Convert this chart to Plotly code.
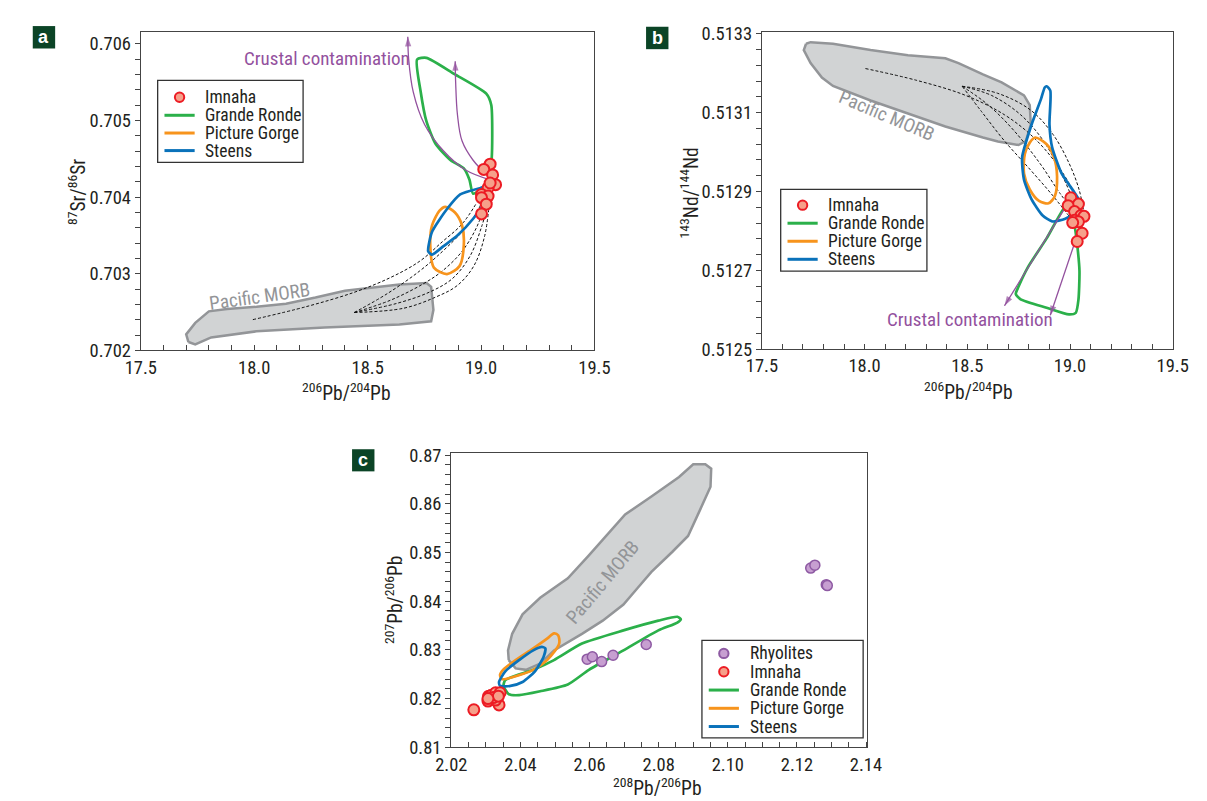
import plotly.graph_objects as go

FONT = "Liberation Sans Narrow, Arial Narrow, Roboto Condensed, Liberation Sans, Arial, sans-serif"
GREEN = "#2bb04a"
ORANGE = "#f7941d"
BLUE = "#0a72ba"
PURPLE = "#93519e"
GRAYF = "#d1d3d4"
GRAYL = "#939598"
RED = "#ec1c24"
REDF = "#f6a08a"
RHYF = "#c79fd1"
RHYL = "#8e5aa3"
DARK = "#231f20"

SERIES_NAMES = ["Rhyolites", "Imnaha", "Grande Ronde", "Picture Gorge", "Steens"]

# ---------------- Panel a: 87Sr/86Sr vs 206Pb/204Pb ----------------
a_morb_x = [17.71, 17.70, 17.74, 17.80, 17.88, 18.01, 18.14, 18.27, 18.40, 18.50, 18.64, 18.76, 18.78, 18.79, 18.78, 18.64, 18.31, 18.01, 17.81, 17.74, 17.71]
a_morb_y = [0.70211, 0.70221, 0.70236, 0.70251, 0.70254, 0.70257, 0.70261, 0.70269, 0.70278, 0.70281, 0.70286, 0.70288, 0.70283, 0.70253, 0.70238, 0.70234, 0.70230, 0.70225, 0.70217, 0.70208, 0.70211]

a_gr_x = [18.718, 18.759, 18.883, 19.023, 19.045, 19.048, 19.040, 19.015, 18.965, 18.949, 18.924, 18.866, 18.800, 18.759, 18.734, 18.718]
a_gr_y = [0.705796, 0.705817, 0.705605, 0.705350, 0.705202, 0.704566, 0.704311, 0.704142, 0.704044, 0.704226, 0.704375, 0.704481, 0.704693, 0.704990, 0.705372, 0.705796]

a_pg_x = [18.842, 18.885, 18.916, 18.924, 18.905, 18.850, 18.792, 18.776, 18.784, 18.817, 18.842]
a_pg_y = [0.703874, 0.703800, 0.703633, 0.703378, 0.703100, 0.702997, 0.703081, 0.703378, 0.703633, 0.703824, 0.703874]

a_st_x = [18.767, 18.784, 18.850, 18.908, 18.998, 19.031, 19.020, 18.965, 18.898, 18.833, 18.784, 18.767]
a_st_y = [0.703293, 0.703548, 0.703845, 0.704036, 0.704120, 0.704142, 0.703950, 0.703718, 0.703505, 0.703357, 0.703251, 0.703293]

a_imn_x = [19.040, 19.012, 19.051, 19.064, 19.031, 19.002, 19.031, 19.002, 19.023, 19.002, 19.040]
a_imn_y = [0.704430, 0.704362, 0.704290, 0.704163, 0.704120, 0.704036, 0.704014, 0.703993, 0.703908, 0.703781, 0.704184]

a_arrow1_x = [19.040, 18.932, 18.833, 18.751, 18.701, 18.681, 18.677]
a_arrow1_y = [0.704226, 0.704354, 0.704608, 0.704947, 0.705372, 0.705796, 0.706092]
a_arrow2_x = [19.040, 18.965, 18.916, 18.896, 18.888, 18.886]
a_arrow2_y = [0.704248, 0.704481, 0.704735, 0.705075, 0.705499, 0.705774]

a_mix_x = [
    [17.994, 18.230, 18.444, 18.602, 18.730, 18.830, 18.916, 18.981],
    [18.441, 18.587, 18.730, 18.830, 18.916, 18.981, 19.011],
    [18.441, 18.602, 18.745, 18.830, 18.916, 18.981, 19.019],
    [18.441, 18.630, 18.773, 18.873, 18.951, 19.002, 19.032],
    [18.441, 18.659, 18.802, 18.895, 18.968, 19.015, 19.036],
]
a_mix_y = [
    [0.702402, 0.702572, 0.702762, 0.702953, 0.703165, 0.703420, 0.703648, 0.703928],
    [0.702495, 0.702742, 0.703038, 0.703292, 0.703547, 0.703801, 0.703992],
    [0.702495, 0.702657, 0.702869, 0.703038, 0.703292, 0.703610, 0.703928],
    [0.702495, 0.702615, 0.702762, 0.702936, 0.703229, 0.703610, 0.703928],
    [0.702495, 0.702551, 0.702699, 0.702847, 0.703102, 0.703483, 0.703903],
]

# ---------------- Panel b: 143Nd/144Nd vs 206Pb/204Pb ----------------
b_morb_x = [17.715, 17.737, 17.846, 18.029, 18.211, 18.393, 18.457, 18.576, 18.667, 18.776, 18.804, 18.809, 18.785, 18.749, 18.649, 18.576, 18.393, 18.211, 18.029, 17.846, 17.792, 17.737, 17.704, 17.715]
b_morb_y = [0.513275, 0.513279, 0.513275, 0.513259, 0.513246, 0.513238, 0.513226, 0.513197, 0.513177, 0.513144, 0.513119, 0.513070, 0.513028, 0.513018, 0.513027, 0.513037, 0.513065, 0.513098, 0.513131, 0.513168, 0.513189, 0.513226, 0.513259, 0.513275]

b_gr_x = [18.986, 18.886, 18.794, 18.749, 18.736, 18.758, 18.886, 18.995, 19.028, 19.041, 19.046, 19.035, 19.022, 19.004, 18.986]
b_gr_y = [0.512868, 0.512781, 0.512707, 0.512658, 0.512640, 0.512627, 0.512605, 0.512588, 0.512592, 0.512625, 0.512699, 0.512765, 0.512814, 0.512856, 0.512868]

b_pg_x = [18.831, 18.886, 18.922, 18.937, 18.926, 18.895, 18.849, 18.804, 18.776, 18.780, 18.804, 18.831]
b_pg_y = [0.513037, 0.513020, 0.512987, 0.512938, 0.512888, 0.512870, 0.512876, 0.512905, 0.512946, 0.512995, 0.513024, 0.513037]

b_st_x = [18.886, 18.904, 18.900, 18.913, 18.959, 19.022, 19.053, 19.031, 18.977, 18.913, 18.867, 18.813, 18.776, 18.767, 18.813, 18.859, 18.877, 18.886]
b_st_y = [0.513167, 0.513156, 0.513070, 0.513012, 0.512946, 0.512897, 0.512868, 0.512847, 0.512831, 0.512824, 0.512839, 0.512880, 0.512930, 0.512987, 0.513070, 0.513135, 0.513164, 0.513167]

b_imn_x = [19.004, 19.041, 18.991, 19.022, 19.053, 19.068, 19.022, 19.041, 19.059, 19.035, 19.013]
b_imn_y = [0.512884, 0.512868, 0.512864, 0.512849, 0.512839, 0.512837, 0.512827, 0.512823, 0.512794, 0.512773, 0.512821]

b_arrow1_x = [19.012, 18.681]
b_arrow1_y = [0.512889, 0.512610]
b_arrow2_x = [19.041, 18.904]
b_arrow2_y = [0.512798, 0.512586]

b_mix_x = [
    [18.004, 18.254, 18.491, 18.680, 18.823, 18.933, 19.012, 19.052],
    [18.475, 18.649, 18.807, 18.917, 18.996, 19.044, 19.067],
    [18.475, 18.617, 18.759, 18.870, 18.949, 19.012, 19.044],
    [18.475, 18.569, 18.680, 18.807, 18.917, 19.028],
    [18.475, 18.601, 18.728, 18.854, 18.949, 19.044],
]
b_mix_y = [
    [0.513212, 0.513182, 0.513144, 0.513095, 0.513037, 0.512971, 0.512905, 0.512856],
    [0.513167, 0.513149, 0.513107, 0.513045, 0.512971, 0.512905, 0.512848],
    [0.513167, 0.513144, 0.513095, 0.513029, 0.512955, 0.512880, 0.512823],
    [0.513167, 0.513103, 0.513029, 0.512955, 0.512889, 0.512815],
    [0.513167, 0.513120, 0.513054, 0.512971, 0.512897, 0.512831],
]

# ---------------- Panel c: 207Pb/206Pb vs 208Pb/206Pb ----------------
c_morb_x = [2.0366, 2.0364, 2.0376, 2.0406, 2.0457, 2.0537, 2.0598, 2.0658, 2.0703, 2.0779, 2.0859, 2.0900, 2.0935, 2.0952, 2.0950, 2.0920, 2.0885, 2.0839, 2.0779, 2.0739, 2.0698, 2.0638, 2.0578, 2.0497, 2.0457, 2.0416, 2.0386, 2.0366]
c_morb_y = [0.8279, 0.8299, 0.8333, 0.8373, 0.8407, 0.8447, 0.8494, 0.8541, 0.8578, 0.8615, 0.8655, 0.8681, 0.8681, 0.8672, 0.8635, 0.8588, 0.8534, 0.8501, 0.8460, 0.8427, 0.8393, 0.8360, 0.8333, 0.8299, 0.8272, 0.8259, 0.8262, 0.8279]

c_gr_x = [2.0351, 2.0366, 2.0396, 2.0457, 2.0537, 2.0598, 2.0698, 2.0799, 2.0854, 2.0864, 2.0854, 2.0799, 2.0698, 2.0578, 2.0497, 2.0437, 2.0356, 2.0351]
c_gr_y = [0.8226, 0.8209, 0.8207, 0.8215, 0.8229, 0.8259, 0.8299, 0.8340, 0.8356, 0.8363, 0.8368, 0.8360, 0.8340, 0.8313, 0.8279, 0.8259, 0.8238, 0.8226]

c_pg_x = [2.0341, 2.0346, 2.0386, 2.0437, 2.0477, 2.0512, 2.0509, 2.0497, 2.0477, 2.0437, 2.0386, 2.0351, 2.0341]
c_pg_y = [0.8249, 0.8240, 0.8246, 0.8259, 0.8279, 0.8313, 0.8330, 0.8334, 0.8323, 0.8303, 0.8279, 0.8260, 0.8249]

c_st_x = [2.0338, 2.0341, 2.0371, 2.0406, 2.0442, 2.0467, 2.0472, 2.0462, 2.0437, 2.0396, 2.0356, 2.0338]
c_st_y = [0.8234, 0.8226, 0.8226, 0.8234, 0.8256, 0.8286, 0.8303, 0.8306, 0.8299, 0.8279, 0.8256, 0.8234]

c_rhy_x = [2.0593, 2.0608, 2.0635, 2.0668, 2.0764, 2.1240, 2.1252, 2.1285, 2.1288]
c_rhy_y = [0.8281, 0.8286, 0.8276, 0.8289, 0.8311, 0.8468, 0.8474, 0.8434, 0.8432]

c_imn_x = [2.0265, 2.0306, 2.0308, 2.0316, 2.0328, 2.0341, 2.0338, 2.0328, 2.0321, 2.0336, 2.0306]
c_imn_y = [0.8177, 0.8195, 0.8205, 0.8207, 0.8212, 0.8212, 0.8187, 0.8197, 0.8202, 0.8205, 0.8200]

fig = go.Figure()

STYLE = {
    "Rhyolites": dict(kind="marker", fill=RHYF, line=RHYL),
    "Imnaha": dict(kind="marker", fill=REDF, line=RED),
    "Grande Ronde": dict(kind="line", color=GREEN),
    "Picture Gorge": dict(kind="line", color=ORANGE),
    "Steens": dict(kind="line", color=BLUE),
}


def add_panel(xa, ya, morb, gr, pg, st, imn, mix=None, arrows=None, rhy=None):
    fig.add_trace(go.Scatter(x=morb[0], y=morb[1], mode="lines", fill="toself", fillcolor=GRAYF,
                             line=dict(color=GRAYL, width=2.5), showlegend=False, hoverinfo="skip",
                             xaxis=xa, yaxis=ya))
    if mix:
        for mx, my in zip(*mix):
            fig.add_trace(go.Scatter(x=mx, y=my, mode="lines",
                                     line=dict(color="#111", width=1, dash="3px,2px", shape="spline"),
                                     showlegend=False, xaxis=xa, yaxis=ya))
    for (sx, sy), name, sm in [(gr, "Grande Ronde", 0.6), (pg, "Picture Gorge", 0.8), (st, "Steens", 0.6)]:
        fig.add_trace(go.Scatter(x=sx, y=sy, mode="lines", name=name, showlegend=False,
                                 line=dict(color=STYLE[name]["color"], width=2.7, shape="spline", smoothing=sm),
                                 xaxis=xa, yaxis=ya))
    if arrows:
        for ax_, ay_ in arrows:
            fig.add_trace(go.Scatter(x=ax_, y=ay_, mode="lines", line=dict(color=PURPLE, width=1.3, shape="spline"),
                                     showlegend=False, xaxis=xa, yaxis=ya))
            fig.add_trace(go.Scatter(x=ax_[-2:], y=ay_[-2:], mode="markers", showlegend=False,
                                     marker=dict(symbol="arrow", angleref="previous", size=[0, 10], color=PURPLE,
                                                 line=dict(width=0)),
                                     xaxis=xa, yaxis=ya))
    if rhy:
        fig.add_trace(go.Scatter(x=rhy[0], y=rhy[1], mode="markers", name="Rhyolites", showlegend=False,
                                 marker=dict(size=10, color=RHYF, line=dict(color=RHYL, width=1.5)),
                                 xaxis=xa, yaxis=ya))
    fig.add_trace(go.Scatter(x=imn[0], y=imn[1], mode="markers", name="Imnaha", showlegend=False,
                             marker=dict(size=11, color=REDF, line=dict(color=RED, width=2)),
                             xaxis=xa, yaxis=ya))


add_panel("x", "y", (a_morb_x, a_morb_y), (a_gr_x, a_gr_y), (a_pg_x, a_pg_y), (a_st_x, a_st_y),
          (a_imn_x, a_imn_y), mix=(a_mix_x, a_mix_y),
          arrows=[(a_arrow1_x, a_arrow1_y), (a_arrow2_x, a_arrow2_y)])
add_panel("x2", "y2", (b_morb_x, b_morb_y), (b_gr_x, b_gr_y), (b_pg_x, b_pg_y), (b_st_x, b_st_y),
          (b_imn_x, b_imn_y), mix=(b_mix_x, b_mix_y),
          arrows=[(b_arrow1_x, b_arrow1_y), (b_arrow2_x, b_arrow2_y)])
add_panel("x3", "y3", (c_morb_x, c_morb_y), (c_gr_x, c_gr_y), (c_pg_x, c_pg_y), (c_st_x, c_st_y),
          (c_imn_x, c_imn_y), rhy=(c_rhy_x, c_rhy_y))

W, H = 1207, 801


def px(x):
    return x / W


def py(y):
    return 1 - y / H


tickfont = dict(family=FONT, size=18.5, color=DARK)
common = dict(showgrid=False, zeroline=False, showline=True, linecolor="#444", linewidth=1.3, mirror=True,
              tickfont=tickfont, tickcolor="#444", ticklen=5, tickwidth=1)


def xaxis(rng, dtick, minor, fmt, dom, anchor):
    return dict(range=rng, dtick=dtick, tick0=rng[0], tickformat=fmt, ticks="inside", domain=dom, anchor=anchor,
                minor=dict(dtick=minor, tick0=rng[0], ticks="inside", ticklen=5, tickcolor="#444"), **common)


def yaxis(rng, dtick, minor, fmt, dom, anchor, tick0):
    return dict(range=rng, dtick=dtick, tick0=tick0, tickformat=fmt, ticks="outside", domain=dom, anchor=anchor,
                minor=dict(dtick=minor, tick0=tick0, ticks="outside", ticklen=5, tickcolor="#444"), **common)


fig.update_layout(
    width=W, height=H, margin=dict(l=0, r=0, t=0, b=0), paper_bgcolor="white", plot_bgcolor="white",
    font=dict(family=FONT, color=DARK), showlegend=False,
    xaxis=xaxis([17.5, 19.5], 0.5, 0.1, ".1f", [px(120), px(586)], "y"),
    yaxis=yaxis([0.702, 0.70615], 0.001, 0.0002, ".3f", [py(342), py(15.7)], "x", 0.702),
    xaxis2=xaxis([17.5, 19.5], 0.5, 0.1, ".1f", [px(758), px(1180)], "y2"),
    yaxis2=yaxis([0.5125, 0.513304], 0.0002, 0.00004, ".4f", [py(340.6), py(15.7)], "x2", 0.5125),
    xaxis3=xaxis([2.02, 2.1403], 0.02, 0.005, ".2f", [px(439), px(866)], "y3"),
    yaxis3=yaxis([0.81, 0.8704], 0.01, 0.002, ".2f", [py(749), py(447.3)], "x3", 0.81),
)


# Legends: box (left, top, right, bottom), row centres, entries
def draw_legend(box, rows, names):
    l, t, r, b = box
    fig.add_shape(type="rect", xref="paper", yref="paper", x0=px(l), x1=px(r), y0=py(b), y1=py(t),
                  line=dict(color="#333", width=1.3), fillcolor="white", layer="above")
    for yc, name in zip(rows, names):
        st = STYLE[name]
        if st["kind"] == "line":
            fig.add_shape(type="line", xref="paper", yref="paper", x0=px(l + 7), x1=px(l + 38), y0=py(yc), y1=py(yc),
                          line=dict(color=st["color"], width=3), layer="above")
        else:
            cx, rr = l + 22.5, 4.8
            fig.add_shape(type="circle", xref="paper", yref="paper", x0=px(cx - rr), x1=px(cx + rr),
                          y0=py(yc + rr), y1=py(yc - rr), fillcolor=st["fill"],
                          line=dict(color=st["line"], width=2), layer="above")
        fig.add_annotation(xref="paper", yref="paper", x=px(l + 47), y=py(yc), text=name, showarrow=False,
                           xanchor="left", yanchor="middle", font=dict(family=FONT, size=17.5, color=DARK))


draw_legend((137.3, 65, 286.7, 149), [82.3, 100.8, 119, 137], SERIES_NAMES[1:])
draw_legend((777.3, 176.7, 927.5, 260.7), [193, 211.5, 230, 248.5], SERIES_NAMES[1:])
draw_legend((696.4, 639.3, 862, 739.3), [652.7, 671.5, 690.3, 709, 727.7], SERIES_NAMES)

# Panel letter boxes
for (x0, y0, x1, y1, letter) in [(9, 9.3, 32, 32.3, "a"), (639, 10, 662, 33, "b"), (337, 443.3, 360, 466, "c")]:
    fig.add_shape(type="rect", xref="paper", yref="paper", x0=px(x0), x1=px(x1), y0=py(y1), y1=py(y0),
                  fillcolor="#0b4426", line=dict(width=0))
    fig.add_annotation(xref="paper", yref="paper", x=px((x0 + x1) / 2), y=py((y0 + y1) / 2), text="<b>%s</b>" % letter,
                       showarrow=False, font=dict(family="Liberation Sans, Arial", size=18, color="white"),
                       xanchor="center", yanchor="middle")

# Axis titles
titles = [
    (331, 385, 0, "<sup>206</sup>Pb/<sup>204</sup>Pb"),
    (54, 180, -90, "<sup>87</sup>Sr/<sup>86</sup>Sr"),
    (970, 384, 0, "<sup>206</sup>Pb/<sup>204</sup>Pb"),
    (683, 180, -90, "<sup>143</sup>Nd/<sup>144</sup>Nd"),
    (651, 790, 0, "<sup>208</sup>Pb/<sup>206</sup>Pb"),
    (380, 597, -90, "<sup>207</sup>Pb/<sup>206</sup>Pb"),
]
for x, y, ang, t in titles:
    fig.add_annotation(xref="paper", yref="paper", x=px(x), y=py(y), text=t, textangle=ang, showarrow=False,
                       font=dict(family=FONT, size=19.5, color=DARK), xanchor="center", yanchor="middle")

# Text labels in panels
labels = [
    (311, 43, 0, "Crustal contamination", PURPLE, 19),
    (972, 310, 0, "Crustal contamination", PURPLE, 19),
    (242, 287, -8, "Pacific MORB", GRAYL, 19),
    (886, 101, 23, "Pacific MORB", GRAYL, 19),
    (594, 580, -50, "Pacific MORB", GRAYL, 19),
]
for x, y, ang, t, col, fs in labels:
    fig.add_annotation(xref="paper", yref="paper", x=px(x), y=py(y), text=t, textangle=ang, showarrow=False,
                       font=dict(family=FONT, size=fs, color=col), xanchor="center", yanchor="middle")

fig.write_html("out.html")
